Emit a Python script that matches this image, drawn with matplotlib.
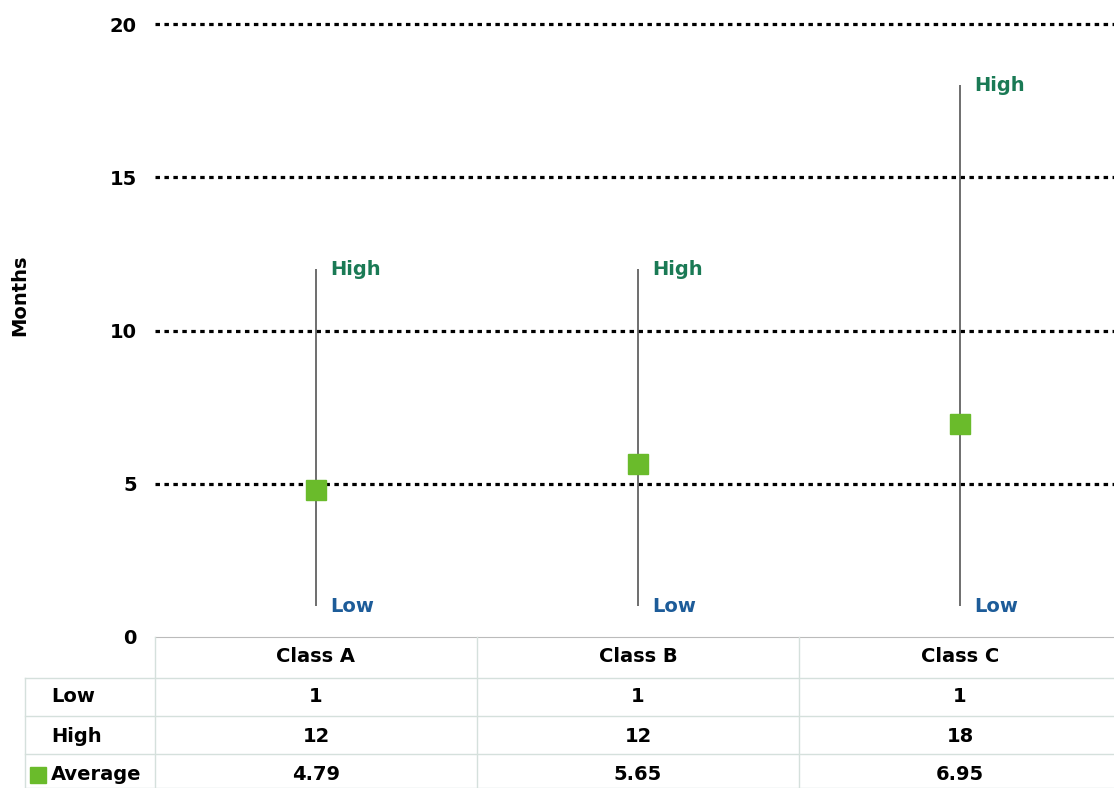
import matplotlib
matplotlib.use("Agg")
import matplotlib.pyplot as plt
from matplotlib.patches import Rectangle

categories = ["Class A", "Class B", "Class C"]
low = [1, 1, 1]
high = [12, 12, 18]
average = [4.79, 5.65, 6.95]
avg_labels = ["4.79", "5.65", "6.95"]
yticks = [0, 5, 10, 15, 20]

plt.rcParams['font.family'] = ['DejaVu Sans']
W, H = 1114, 788
fig = plt.figure(figsize=(W / 100, H / 100), dpi=100)

left_px, right_px, top_px, bot_px = 155, 1121, 24, 637
ax = fig.add_axes([left_px / W, (H - bot_px) / H, (right_px - left_px) / W, (bot_px - top_px) / H])
ax.set_xlim(-0.5, 2.5)
ax.set_ylim(0, 20)

GREEN_TXT = "#1a7a55"
BLUE_TXT = "#1d5c99"
MARK = "#6abb2b"
FS = 14

for y in yticks[1:]:
    ax.axhline(y, color="black", lw=2.3, ls=(0, (1.4, 1.4)), zorder=1, clip_on=False)

xs = list(range(len(categories)))
ax.vlines(xs, low, high, color="#555555", lw=1.2, zorder=2)
ax.plot(xs, average, ls="none", marker="s", ms=15, color=MARK, zorder=3)
dx = 14 / 322
for x, lo, hi in zip(xs, low, high):
    ax.text(x + dx, hi, "High", color=GREEN_TXT, fontsize=FS, fontweight="bold", va="center", ha="left")
    ax.text(x + dx, lo, "Low", color=BLUE_TXT, fontsize=FS, fontweight="bold", va="center", ha="left")

for s in ["top", "right", "left"]:
    ax.spines[s].set_visible(False)
ax.spines["bottom"].set_color("#bbbbbb")
ax.set_xticks([])
ax.set_yticks(yticks)
ax.set_yticklabels([str(t) for t in yticks], fontsize=FS, fontweight="bold")
ax.tick_params(axis="y", length=0, pad=13)
ax.set_ylabel("Months", fontsize=FS, fontweight="bold")
ax.yaxis.set_label_coords((29 - left_px) / (right_px - left_px), (bot_px - 295) / (bot_px - top_px))

# table
tax = fig.add_axes([left_px / W, 0, (right_px - left_px) / W, (H - bot_px) / H])
tax.set_xlim(-0.5, 2.5)
tax.set_ylim(H, bot_px)
tax.axis("off")
LC = "#d5e0dc"
x_lab = -0.5 + (25 - left_px) / 322
row_lines = [678, 716, 754, 788]
for yl in row_lines:
    tax.plot([x_lab, 2.5], [yl, yl], color=LC, lw=1, clip_on=False)
for xv in [-0.5, 0.5, 1.5]:
    tax.plot([xv, xv], [bot_px, H], color=LC, lw=1, clip_on=False)
tax.plot([x_lab, x_lab], [678, H], color=LC, lw=1, clip_on=False)

row_y = [657, 697, 736, 774]
for x, c in zip(xs, categories):
    tax.text(x, row_y[0], c, ha="center", va="center", fontsize=FS, fontweight="bold")
for x, lo, hi, av in zip(xs, low, high, avg_labels):
    tax.text(x, row_y[1], str(lo), ha="center", va="center", fontsize=FS, fontweight="bold")
    tax.text(x, row_y[2], str(hi), ha="center", va="center", fontsize=FS, fontweight="bold")
    tax.text(x, row_y[3], av, ha="center", va="center", fontsize=FS, fontweight="bold")

x_txt = -0.5 + (51 - left_px) / 322
tax.text(x_txt, row_y[1], "Low", ha="left", va="center", fontsize=FS, fontweight="bold")
tax.text(x_txt, row_y[2], "High", ha="left", va="center", fontsize=FS, fontweight="bold")
tax.text(x_txt, row_y[3], "Average", ha="left", va="center", fontsize=FS, fontweight="bold")
sq_x = -0.5 + (30 - left_px) / 322
tax.add_patch(Rectangle((sq_x, 767), 16 / 322, 16, color=MARK, clip_on=False))

fig.savefig("out.png", dpi=100)
